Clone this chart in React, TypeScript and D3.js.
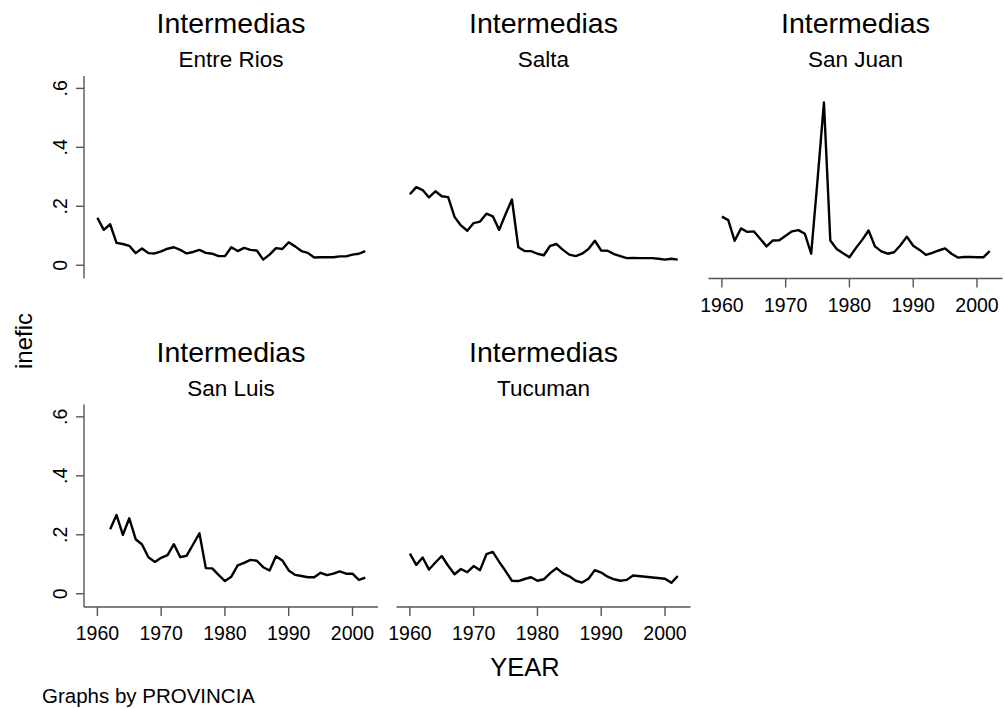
import React from "react";
import * as d3 from "d3";

const years: number[] = d3.range(1960, 2003);

const entreRios: (number | null)[] = [0.161, 0.12, 0.139, 0.076, 0.072, 0.066, 0.041, 0.057, 0.041, 0.04, 0.047, 0.056, 0.061, 0.052, 0.04, 0.045, 0.052, 0.042, 0.039, 0.031, 0.031, 0.061, 0.048, 0.059, 0.052, 0.05, 0.019, 0.036, 0.058, 0.055, 0.078, 0.064, 0.048, 0.042, 0.026, 0.027, 0.027, 0.027, 0.03, 0.03, 0.036, 0.039, 0.048];
const salta: (number | null)[] = [0.241, 0.265, 0.255, 0.23, 0.251, 0.234, 0.231, 0.164, 0.135, 0.117, 0.143, 0.148, 0.175, 0.166, 0.12, 0.173, 0.223, 0.061, 0.048, 0.048, 0.039, 0.034, 0.066, 0.072, 0.052, 0.036, 0.031, 0.039, 0.055, 0.083, 0.05, 0.049, 0.038, 0.031, 0.024, 0.025, 0.024, 0.024, 0.024, 0.022, 0.019, 0.022, 0.019];
const sanJuan: (number | null)[] = [0.165, 0.153, 0.083, 0.125, 0.113, 0.115, 0.09, 0.064, 0.084, 0.085, 0.1, 0.115, 0.119, 0.107, 0.039, 0.29, 0.552, 0.084, 0.055, 0.041, 0.027, 0.058, 0.086, 0.118, 0.064, 0.047, 0.039, 0.044, 0.068, 0.097, 0.066, 0.052, 0.035, 0.042, 0.05, 0.057, 0.039, 0.026, 0.028, 0.028, 0.027, 0.027, 0.048];
const sanLuis: (number | null)[] = [null, null, 0.219, 0.267, 0.2, 0.256, 0.185, 0.167, 0.124, 0.108, 0.122, 0.131, 0.168, 0.124, 0.129, 0.167, 0.205, 0.087, 0.086, 0.064, 0.043, 0.058, 0.096, 0.105, 0.115, 0.112, 0.09, 0.079, 0.127, 0.113, 0.079, 0.064, 0.06, 0.056, 0.056, 0.071, 0.063, 0.068, 0.076, 0.068, 0.068, 0.047, 0.055];
const tucuman: (number | null)[] = [0.136, 0.098, 0.123, 0.082, 0.106, 0.128, 0.095, 0.066, 0.084, 0.073, 0.094, 0.08, 0.134, 0.142, 0.108, 0.077, 0.044, 0.043, 0.05, 0.056, 0.044, 0.049, 0.07, 0.087, 0.069, 0.059, 0.044, 0.038, 0.051, 0.08, 0.072, 0.058, 0.049, 0.044, 0.047, 0.062, null, null, null, null, 0.051, 0.037, 0.06];

const groupTitle = "Intermedias";
const provinces: string[] = ["Entre Rios", "Salta", "San Juan", "San Luis", "Tucuman"];
const seriesList = [entreRios, salta, sanJuan, sanLuis, tucuman];
const xTicks: number[] = [1960, 1970, 1980, 1990, 2000];
const yTicks: number[] = [0, 0.2, 0.4, 0.6];
const yTickLabels: string[] = ["0", ".2", ".4", ".6"];

const FONT = "'Liberation Sans', Arial, Helvetica, sans-serif";
const W = 1005;
const H = 709;
const colX = [84, 396.5, 708.5];
const plotW = 294;
const rowTop = [76, 404.5];
const plotH = 202.5;

export default function App() {
  const panels = provinces.map((name, i) => {
    const col = i % 3;
    const row = Math.floor(i / 3);
    const x0 = colX[col];
    const y0 = rowTop[row];
    const x = d3.scaleLinear().domain([1957.9, 2004]).range([x0, x0 + plotW]);
    const y = d3.scaleLinear().domain([-0.045, 0.642]).range([y0 + plotH, y0]);
    const data = years.map((yr, k) => ({ yr, v: seriesList[i][k] }));
    const line = d3
      .line<{ yr: number; v: number | null }>()
      .defined((d) => d.v !== null)
      .x((d) => x(d.yr))
      .y((d) => y(d.v as number));
    const cleaned = data.filter((d) => d.v !== null);
    const showY = col === 0;
    const showX = row === 1 || col === 2;
    const cx = x0 + plotW / 2;
    return (
      <g key={name}>
        <text x={cx} y={y0 - 43} textAnchor="middle" fontSize={28.5} fontFamily={FONT} fill="#000">
          {groupTitle}
        </text>
        <text x={cx} y={y0 - 9} textAnchor="middle" fontSize={22.5} fontFamily={FONT} fill="#000">
          {name}
        </text>
        <path d={line(cleaned) || ""} fill="none" stroke="#000" strokeWidth={2.4} strokeLinejoin="round" />
        {showY && (
          <g>
            <line x1={x0} x2={x0} y1={y0} y2={y0 + plotH} stroke="#555" strokeWidth={1.4} />
            {yTicks.map((t, k) => (
              <g key={t}>
                <line x1={x0 - 8} x2={x0} y1={y(t)} y2={y(t)} stroke="#555" strokeWidth={1.4} />
                <text
                  transform={`translate(${x0 - 17},${y(t)}) rotate(-90)`}
                  textAnchor="middle"
                  fontSize={19.5}
                  fontFamily={FONT}
                  fill="#000"
                >
                  {yTickLabels[k]}
                </text>
              </g>
            ))}
          </g>
        )}
        {showX && (
          <g>
            <line x1={x0} x2={x0 + plotW} y1={y0 + plotH} y2={y0 + plotH} stroke="#555" strokeWidth={1.4} />
            {xTicks.map((t) => (
              <g key={t}>
                <line x1={x(t)} x2={x(t)} y1={y0 + plotH} y2={y0 + plotH + 9} stroke="#555" strokeWidth={1.4} />
                <text x={x(t)} y={y0 + plotH + 33} textAnchor="middle" fontSize={19.5} fontFamily={FONT} fill="#000">
                  {t}
                </text>
              </g>
            ))}
          </g>
        )}
      </g>
    );
  });

  return (
    <svg
      width={W}
      height={H}
      style={{ position: "absolute", left: 0, top: 0, background: "#fff" }}
    >
      <rect width={W} height={H} fill="#fff" />
      {panels}
      <text transform="translate(32,341) rotate(-90)" textAnchor="middle" fontSize={24} fontFamily={FONT} fill="#000">
        inefic
      </text>
      <text x={525} y={676} textAnchor="middle" fontSize={25.5} fontFamily={FONT} fill="#000">
        YEAR
      </text>
      <text x={42} y={703} fontSize={20.5} fontFamily={FONT} fill="#000">
        Graphs by PROVINCIA
      </text>
    </svg>
  );
}
